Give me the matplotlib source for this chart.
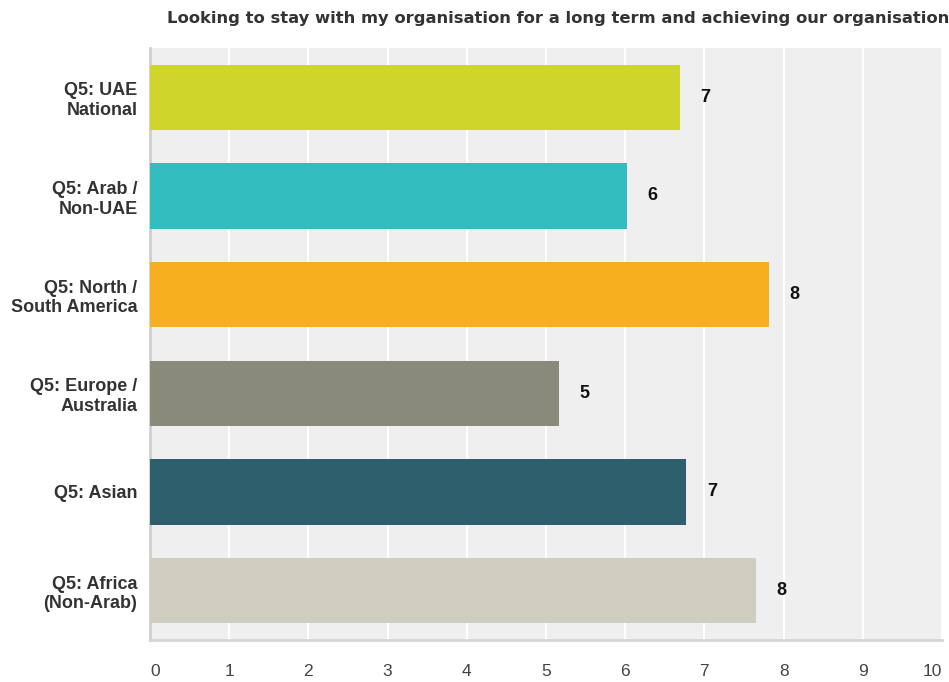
import matplotlib.pyplot as plt

plt.rcParams['font.family'] = ['Liberation Sans', 'DejaVu Sans']

# average score per nationality group
groups = ['Q5: UAE\nNational', 'Q5: Arab /\nNon-UAE', 'Q5: North /\nSouth America',
          'Q5: Europe /\nAustralia', 'Q5: Asian', 'Q5: Africa\n(Non-Arab)']
scores = [6.69, 6.02, 7.81, 5.16, 6.77, 7.65]
colors = ['#cfd52a', '#33bdbf', '#f7ae1f', '#898a7a', '#2e5f6c', '#cfcdbf']
xticks = [0, 1, 2, 3, 4, 5, 6, 7, 8, 9, 10]

fig = plt.figure(figsize=(9.49, 6.82), dpi=100)
ax = fig.add_axes([150/949, 1 - 640/682, 792/949, 592/682])
ax.set_facecolor('#efefef')

ypos = list(range(len(groups)))
ax.barh(ypos, scores, height=0.66, color=colors, zorder=3)
for y, v in zip(ypos, scores):
    ax.text(v + 0.26, y, f'{v:.0f}', va='center', ha='left',
            fontsize=13, fontweight='bold', color='#111111', zorder=4)

ax.set_xlim(0, 10)
ax.set_ylim(len(groups) - 0.5, -0.5)
ax.set_xticks(xticks)
ax.set_yticks(ypos)
ax.set_yticklabels(groups, fontsize=13, fontweight='bold', color='#333333',
                   linespacing=1.2)
ax.tick_params(axis='x', length=0, pad=17, labelsize=12.5, labelcolor='#444444')
ax.tick_params(axis='y', length=0, pad=9)
ax.grid(axis='x', color='white', linewidth=1.5, zorder=1)

# keep the end labels inside the figure
xlabels = ax.get_xticklabels()
xlabels[0].set_horizontalalignment('left')
xlabels[-1].set_horizontalalignment('right')

for s in ['top', 'right']:
    ax.spines[s].set_visible(False)
ax.spines['left'].set_color('#cfcfcf')
ax.spines['left'].set_linewidth(2)
ax.spines['bottom'].set_color('#d6d6d6')
ax.spines['bottom'].set_linewidth(2)

fig.text(167/949, 1 - 18/682,
         'Looking to stay with my organisation for a long term and achieving our organisation',
         ha='left', va='center', fontsize=11.8, fontweight='bold', color='#333333',
         family='DejaVu Sans')

fig.savefig('out.png', dpi=100, facecolor='white')
